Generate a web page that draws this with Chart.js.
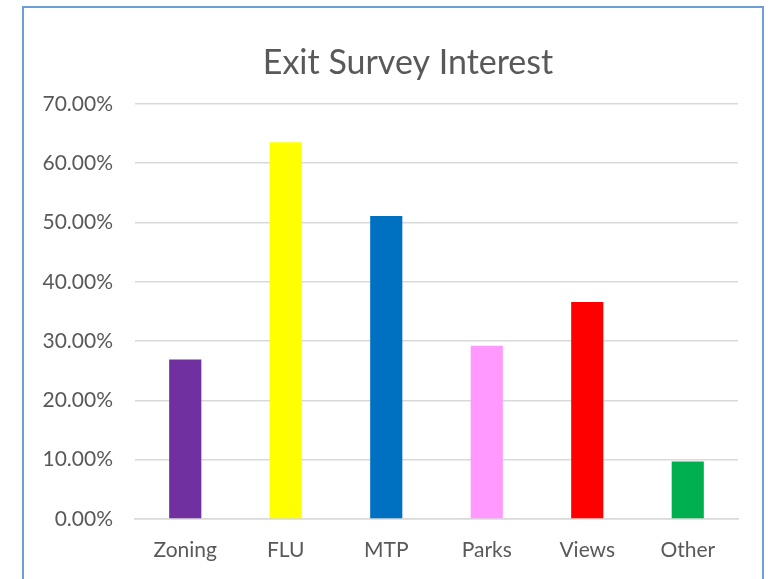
<!DOCTYPE html>
<html>
<head>
<meta charset="utf-8">
<script src="https://cdn.jsdelivr.net/npm/chart.js@4.4.1/dist/chart.umd.min.js"></script>
<style>
  html, body { margin: 0; padding: 0; background: #fff; overflow: hidden; }
  #frame {
    position: absolute; left: 22px; top: 6px; width: 742px; height: 620px;
    border: 2px solid #6A9FD8; box-sizing: border-box;
  }
  #wrap { position: absolute; left: 0; top: 0; width: 769px; height: 579px; }
</style>
</head>
<body>
<div id="frame"></div>
<div id="wrap"><canvas id="chart" width="769" height="579"></canvas></div>
<script>
const categories = ["Zoning", "FLU", "MTP", "Parks", "Views", "Other"];
const interest = [26.9, 63.5, 51.1, 29.2, 36.6, 9.7];
const barColors = ["#7030A0", "#FFFF00", "#0070C0", "#FF99FF", "#FF0000", "#00B050"];
const yTicks = [0, 10, 20, 30, 40, 50, 60, 70];

const textColor = "#595959";
const fontFamily = "Lato, 'Open Sans', sans-serif";

// centre the title over the whole frame rather than the padded canvas
const titleShift = {
    id: 'titleShift',
    afterLayout(chart) {
        const t = chart.titleBlock;
        if (t) {
            t.left = 78;
            t.right = 738;
        }
    }
};

let ctx = document.getElementById('chart').getContext('2d');
let surveyChart = new Chart(ctx, {
    type: 'bar',
    data: {
        labels: categories,
        datasets: [{
            data: interest,
            backgroundColor: barColors,
            borderWidth: 0,
            barPercentage: 0.32,
            categoryPercentage: 1.0
        }]
    },
    options: {
        responsive: false,
        animation: false,
        layout: { padding: { top: 0, right: 31, bottom: 0, left: 0 } },
        plugins: {
            legend: { display: false },
            tooltip: { enabled: false },
            title: {
                display: true,
                text: 'Exit Survey Interest',
                color: textColor,
                font: { family: fontFamily, size: 34, weight: 'normal', lineHeight: 1.2 },
                padding: { top: 43, bottom: 20 }
            }
        },
        scales: {
            x: {
                grid: { display: false },
                border: { display: true, color: '#D9D9D9', width: 1.5 },
                ticks: {
                    color: textColor,
                    font: { family: fontFamily, size: 21 },
                    padding: 11,
                    maxRotation: 0
                },
                afterFit: function(scale) { scale.height = 60; }
            },
            y: {
                min: 0,
                max: yTicks[yTicks.length - 1],
                afterBuildTicks: function(scale) {
                    scale.ticks = yTicks.map(v => ({ value: v }));
                },
                grid: { color: '#D9D9D9', lineWidth: 1.5, drawTicks: false },
                border: { display: false },
                ticks: {
                    color: textColor,
                    font: { family: fontFamily, size: 21 },
                    padding: 22,
                    callback: function(value) { return value.toFixed(2) + '%'; }
                },
                afterFit: function(scale) { scale.width = 135; }
            }
        }
    },
    plugins: [titleShift]
});
</script>
</body>
</html>
